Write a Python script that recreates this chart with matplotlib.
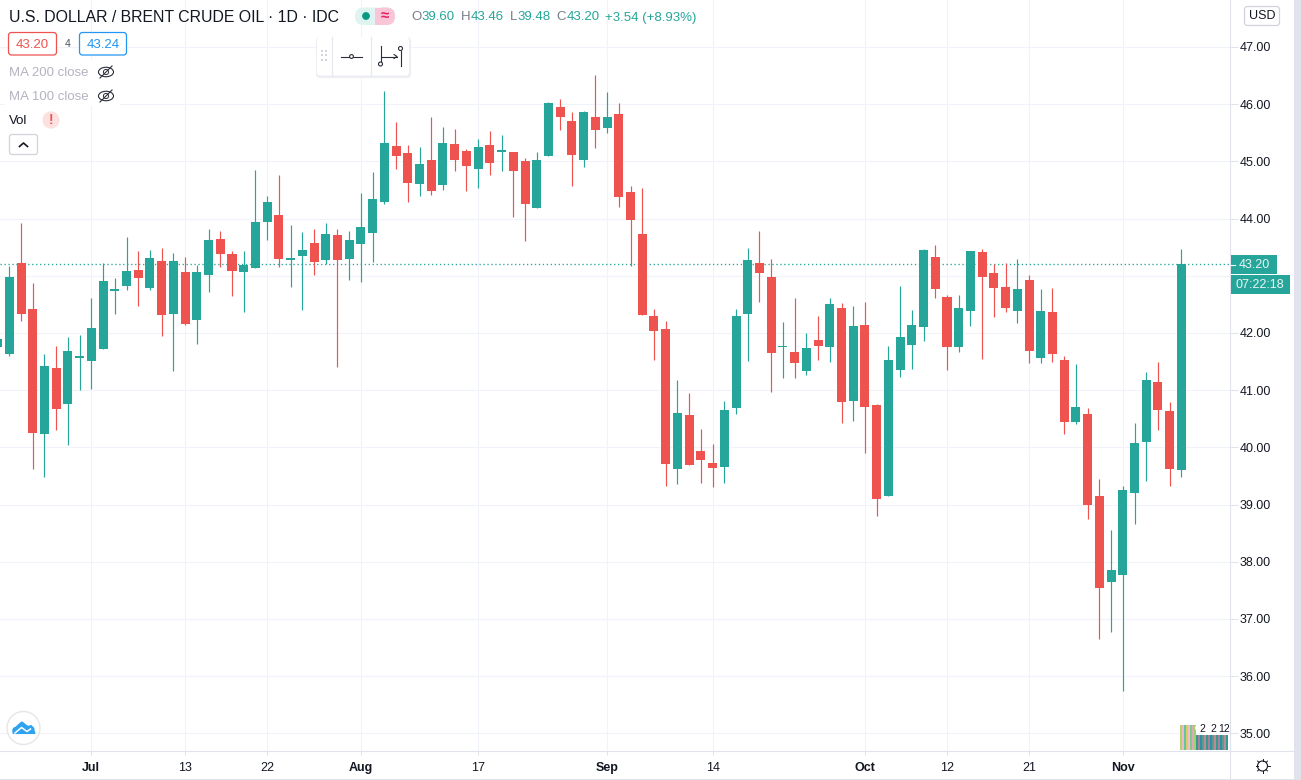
import numpy as np
import matplotlib
matplotlib.use("Agg")
import matplotlib.pyplot as plt
from matplotlib.patches import Rectangle, FancyBboxPatch, Circle, Ellipse, Polygon

plt.rcParams['font.family'] = ['Liberation Sans', 'DejaVu Sans']

opens = [41.75, 41.63, 43.22, 42.41, 40.23, 41.38, 40.75, 41.56, 41.51, 41.72, 42.73, 42.82, 43.10, 42.78, 43.25, 42.33,
         43.06, 42.22, 43.01, 43.64, 43.38, 43.06, 43.13, 43.94, 44.06, 43.27, 43.34, 43.57, 43.28, 43.71, 43.29, 43.56,
         43.75, 44.29, 45.27, 45.15, 44.61, 45.03, 44.59, 45.31, 45.18, 44.87, 45.29, 45.17, 45.17, 45.01, 44.19, 45.10,
         45.95, 45.71, 45.03, 45.78, 45.59, 45.83, 44.46, 43.73, 42.29, 42.07, 39.62, 40.56, 39.93, 39.72, 39.65, 40.68,
         42.33, 43.22, 42.97, 41.75, 41.66, 41.33, 41.87, 41.75, 42.43, 40.81, 42.14, 40.74, 39.15, 41.35, 41.79, 42.10,
         43.32, 42.62, 41.76, 42.38, 43.41, 43.04, 42.81, 42.39, 42.92, 41.57, 42.36, 41.52, 40.45, 40.59, 39.15, 37.64,
         37.77, 39.21, 40.09, 41.15, 40.63, 39.60]
highs = [41.95, 43.17, 43.92, 42.87, 41.63, 41.77, 41.93, 41.96, 42.61, 43.22, 42.96, 43.67, 43.43, 43.45, 43.48, 43.39,
         43.32, 43.18, 43.81, 43.78, 43.43, 43.43, 44.85, 44.39, 44.76, 43.88, 43.76, 43.81, 43.92, 43.82, 43.78, 44.45,
         44.82, 46.23, 45.69, 45.29, 45.25, 45.78, 45.60, 45.57, 45.22, 45.39, 45.53, 45.46, 45.17, 45.06, 45.17, 46.04,
         46.09, 45.87, 45.88, 46.51, 46.22, 46.02, 44.57, 44.53, 42.41, 42.21, 41.17, 40.95, 40.32, 40.05, 40.81, 42.41,
         43.48, 43.78, 43.29, 42.19, 42.61, 42.00, 42.29, 42.61, 42.52, 42.47, 42.54, 40.75, 41.77, 42.82, 42.40, 43.46,
         43.53, 42.67, 42.66, 43.43, 43.46, 43.20, 43.22, 43.29, 43.02, 42.76, 42.78, 41.59, 41.45, 40.68, 39.44, 38.55,
         39.32, 40.42, 41.31, 41.50, 40.80, 43.46]
lows = [41.70, 41.59, 42.21, 39.62, 39.48, 40.30, 40.04, 41.00, 41.02, 41.72, 42.33, 42.75, 42.47, 42.75, 41.94, 41.33,
        42.14, 41.80, 42.71, 43.15, 42.64, 42.36, 43.13, 43.62, 43.15, 42.80, 42.40, 43.01, 43.21, 41.41, 42.93, 42.89,
        43.24, 44.26, 44.87, 44.29, 44.40, 44.41, 44.50, 44.83, 44.48, 44.54, 44.76, 44.83, 44.03, 43.61, 44.19, 45.10,
        45.55, 44.57, 44.90, 45.24, 45.50, 44.20, 43.17, 42.31, 41.52, 39.32, 39.36, 39.69, 39.37, 39.30, 39.37, 40.58,
        41.51, 42.54, 40.96, 41.21, 41.21, 41.26, 41.52, 41.49, 40.42, 40.46, 39.91, 38.80, 39.15, 41.23, 41.37, 41.86,
        42.61, 41.36, 41.66, 42.13, 41.55, 42.27, 42.36, 42.18, 41.47, 41.47, 41.50, 40.23, 40.40, 38.74, 36.65, 36.77,
        35.74, 38.66, 39.42, 40.31, 39.33, 39.48]
closes = [41.90, 42.97, 42.33, 40.25, 41.42, 40.67, 41.68, 41.59, 42.08, 42.90, 42.76, 43.08, 42.96, 43.31, 42.31, 43.25,
          42.15, 43.06, 43.62, 43.38, 43.08, 43.18, 43.94, 44.29, 43.29, 43.31, 43.45, 43.24, 43.73, 43.28, 43.63, 43.85,
          44.34, 45.32, 45.10, 44.62, 44.96, 44.48, 45.32, 45.03, 44.92, 45.25, 44.97, 45.18, 44.83, 44.26, 45.03, 46.02,
          45.78, 45.11, 45.87, 45.55, 45.78, 44.38, 43.97, 42.31, 42.03, 39.71, 40.60, 39.69, 39.78, 39.64, 40.65, 42.29,
          43.27, 43.04, 41.65, 41.77, 41.47, 41.73, 41.77, 42.50, 40.79, 42.12, 40.70, 39.09, 41.52, 41.93, 42.14, 43.45,
          42.76, 41.75, 42.43, 43.43, 42.97, 42.78, 42.43, 42.76, 41.68, 42.39, 41.64, 40.44, 40.70, 39.00, 37.54, 37.85,
          39.25, 40.07, 41.17, 40.65, 39.63, 43.20]

x_tick_index = [7, 15, 22, 30, 40, 51, 60, 73, 80, 87, 95]
x_tick_labels = ['Jul', '13', '22', 'Aug', '17', 'Sep', '14', 'Oct', '12', '21', 'Nov']
month_labels = ['Jul', 'Aug', 'Sep', 'Oct', 'Nov']
y_ticks = [35, 36, 37, 38, 39, 40, 41, 42, 43, 44, 45, 46, 47]
y_hidden_label = 43  # covered by the countdown box in the reference
last_price = 43.20

GREEN = '#26a69a'
RED = '#ef5350'
GRID = '#f0f3fa'
AXIS = '#e0e3eb'
TEXT = '#131722'
W, H = 1301, 780

fig = plt.figure(figsize=(W / 100, H / 100), dpi=100, facecolor='white')
ax = fig.add_axes([0, (H - 751.3) / H, 1230.3 / W, 751.3 / H])

o, h, l, c = map(np.array, (opens, highs, lows, closes))
idx = np.arange(len(o)) - 1
col = np.where(c >= o, GREEN, RED)
ax.vlines(idx, l, h, colors=col, linewidth=0.85, zorder=3)
ax.bar(idx, np.maximum(np.abs(c - o), 0.02), bottom=np.minimum(o, c), width=0.77, color=col, linewidth=0, zorder=4)
ax.axhline(last_price, color=GREEN, linestyle=(0, (1, 2)), linewidth=0.95, zorder=2)

ax.set_xlim(-0.7935, 104.17)
ax.set_ylim(34.687, 47.82)
ax.set_xticks(x_tick_index)
ax.set_xticklabels(x_tick_labels)
ax.yaxis.tick_right()
ax.set_yticks(y_ticks)
ax.set_yticklabels(['' if v == y_hidden_label else f'{v:.2f}' for v in y_ticks])
ax.grid(True, color=GRID, linewidth=0.8, zorder=0)
ax.set_axisbelow(True)
ax.tick_params(axis='y', length=5.5, width=0.75, color=AXIS, labelcolor=TEXT, labelsize=9, pad=1)
ax.tick_params(axis='x', length=3, width=0.75, color=AXIS, labelcolor=TEXT, labelsize=9, pad=4.5)
for t in ax.get_xticklabels():
    if t.get_text() in month_labels:
        t.set_fontweight('bold')
for s in ('top', 'left'):
    ax.spines[s].set_visible(False)
for s in ('right', 'bottom'):
    ax.spines[s].set_color(AXIS)
    ax.spines[s].set_linewidth(0.8)

# Interface furniture in pixel coordinates
ui = fig.add_axes([0, 0, 1, 1], zorder=5)
ui.set_xlim(0, W)
ui.set_ylim(H, 0)
ui.axis('off')
ui.patch.set_alpha(0)


def rrect(x0, y0, x1, y1, r=3, fc='white', ec='none', lw=0.8, z=6):
    p = FancyBboxPatch((x0 + r, y0 + r), x1 - x0 - 2 * r, y1 - y0 - 2 * r,
                       boxstyle=f'round,pad={r},rounding_size={r}', fc=fc, ec=ec, lw=lw, zorder=z)
    ui.add_patch(p)
    return p


def txt(x, y, s, color=TEXT, size=9, ha='left', weight='normal', z=8):
    ui.text(x, y, s, color=color, fontsize=size, ha=ha, va='center', fontweight=weight, zorder=z)


# edges of the window
ui.add_patch(Rectangle((1294, 0), 7, H, fc=AXIS, ec='none', zorder=9))
ui.add_patch(Rectangle((0, 779), W, 1, fc=AXIS, ec='none', zorder=9))
ui.plot([1230.3, 1230.3], [751, 779], color=AXIS, lw=0.8, zorder=6)
ui.plot([1230.3, 1294], [751.3, 751.3], color=AXIS, lw=0.8, zorder=6)

# title row
txt(9, 17, 'U.S. DOLLAR / BRENT CRUDE OIL · 1D · IDC', size=11.45)
rrect(355, 7.5, 395, 25, r=8.5, fc='#dff3f0', z=6)
rrect(375, 7.5, 395, 25, r=8.5, fc='#f9c5d7', z=6)
ui.add_patch(Rectangle((375, 7.5), 9, 17.5, fc='#f9c5d7', ec='none', zorder=6))
ui.add_patch(Circle((366, 16), 3.9, fc='#089981', ec='none', zorder=7))
txt(384.5, 15.5, '≈', color='#e91e63', size=11, ha='center', weight='bold')
GREY = '#787b86'
for xp, s, cl in [(411, 'O', GREY), (421.5, '39.60', GREEN), (460.7, 'H', GREY), (470.2, '43.46', GREEN),
                  (510, 'L', GREY), (517.2, '39.48', GREEN), (556.7, 'C', GREY), (566.2, '43.20', GREEN),
                  (605, '+3.54 (+8.93%)', GREEN)]:
    txt(xp, 17.5, s, color=cl, size=9.5)

# bid / ask
rrect(8.5, 32.5, 56.5, 55, r=3, fc='white', ec=RED, lw=0.9)
rrect(79.5, 32.5, 126.5, 55, r=3, fc='white', ec='#2196f3', lw=0.9)
txt(32.5, 44.5, '43.20', color=RED, size=9.5, ha='center')
txt(103, 44.5, '43.24', color='#2196f3', size=9.5, ha='center')
txt(67.5, 44, '4', color='#50535e', size=7.5, ha='center')

# legend rows
ui.add_patch(Rectangle((5, 60), 115, 46, fc='white', ec='none', zorder=5.5))
txt(9, 73, 'MA 200 close', color='#b2b5be', size=9.5)
txt(9, 97, 'MA 100 close', color='#b2b5be', size=9.5)
for ey in (72, 96):
    ui.add_patch(Ellipse((106, ey), 15, 9.5, fc='none', ec='#2a2e39', lw=0.8, zorder=7))
    ui.add_patch(Circle((106, ey), 2.6, fc='none', ec='#2a2e39', lw=0.7, zorder=7))
    ui.plot([100, 112], [ey + 6, ey - 6], color='#2a2e39', lw=0.8, zorder=7)
txt(9, 120.5, 'Vol', color=TEXT, size=9.5)
ui.add_patch(Circle((51, 120), 8.6, fc='#fde0e0', ec='none', zorder=6))
txt(51, 120, '!', color=RED, size=10, ha='center', weight='bold')
rrect(9.5, 134.5, 37.5, 154.5, r=2.5, fc='white', ec='#d1d4dc', lw=0.9)
ui.plot([19.5, 23.5, 27.5], [146.5, 143, 146.5], color=TEXT, lw=1.2, zorder=7)

# floating toolbar
rrect(316, 37, 411, 78, r=4, fc='#eceef2', z=5.4)
rrect(317, 37, 409, 75.5, r=3, fc='white', z=6)
ui.plot([331.5, 331.5], [37, 75.5], color='#e6e8ee', lw=0.9, zorder=7)
ui.plot([370.5, 370.5], [37, 75.5], color='#e6e8ee', lw=0.9, zorder=7)
for gx in (322, 326):
    for gy in (51, 55, 60):
        ui.add_patch(Rectangle((gx - 1, gy - 1), 2, 2, fc='#d1d4dc', ec='none', zorder=7))
ui.plot([341, 362], [56.5, 56.5], color='#2a2e39', lw=0.8, zorder=7)
ui.add_patch(Circle((351.5, 56.5), 1.9, fc='white', ec='#2a2e39', lw=0.8, zorder=8))
ui.plot([380.5, 380.5], [46, 62], color='#2a2e39', lw=0.8, zorder=7)
ui.plot([400.5, 400.5], [51, 66], color='#2a2e39', lw=0.8, zorder=7)
ui.plot([381, 397], [56.5, 56.5], color='#2a2e39', lw=0.8, zorder=7)
ui.plot([394, 397, 394], [54.5, 56.5, 58.5], color='#2a2e39', lw=0.8, zorder=7)
ui.add_patch(Circle((380.5, 64), 2, fc='white', ec='#2a2e39', lw=0.8, zorder=8))
ui.add_patch(Circle((400.5, 48.5), 2, fc='white', ec='#2a2e39', lw=0.8, zorder=8))

# USD button
rrect(1244.5, 6.5, 1279.5, 25.5, r=3, fc='white', ec='#d1d4dc', lw=0.9)
txt(1262, 16, 'USD', size=9, ha='center')

# last price + countdown
ui.add_patch(Rectangle((1230.5, 255), 46.5, 19, fc=GREEN, ec='none', zorder=6))
ui.plot([1231, 1235], [264.5, 264.5], color='white', lw=0.8, zorder=7)
txt(1254, 264.8, '43.20', color='#e8f6f4', size=9, ha='center')
ui.add_patch(Rectangle((1231, 275), 59, 18.5, fc=GREEN, ec='none', zorder=6))
txt(1260, 284.5, '07:22:18', color='#e8f6f4', size=9, ha='center')

# logo
ui.add_patch(Circle((23.5, 728), 16.5, fc='white', ec='#e6e6e6', lw=1.0, zorder=6))
ui.add_patch(Polygon([(13.5, 730), (20, 724), (22, 722.5), (25, 725), (28, 727), (31, 726), (34.5, 733), (13.5, 733)],
                     fc='#2ea3f2', ec='#2ea3f2', lw=1.5, joinstyle='round', zorder=7))
ui.add_patch(Circle((31, 729.5), 3.5, fc='#2ea3f2', ec='none', zorder=7))
ui.add_patch(Circle((15.5, 730), 3, fc='#2ea3f2', ec='none', zorder=7))
ui.plot([15, 21.5, 27, 30.5], [733, 727.5, 731.5, 729], color='white', lw=1.1, zorder=8)

# sun icon
ui.add_patch(Circle((1262.5, 766), 5, fc='none', ec=TEXT, lw=0.8, zorder=7))
for a in np.arange(0, 2 * np.pi, np.pi / 4):
    ui.plot([1262.5 + 5 * np.cos(a), 1262.5 + 7 * np.cos(a)], [766 + 5 * np.sin(a), 766 + 7 * np.sin(a)],
            color=TEXT, lw=0.7, zorder=7)

# small artefact at the lower right corner of the pane
stripes = ['#b5d36b', '#f0b8c8', '#63c4a4', '#d6cf66', '#f4bcd0', '#7fc98a', '#e0a8b8', '#a0d070']
for k, xp in enumerate(np.arange(1180, 1196, 2)):
    ui.add_patch(Rectangle((xp, 725), 2, 24.5, fc=stripes[k % len(stripes)], ec='none', zorder=6))
short = ['#2f9c90', '#b07d96', '#2a90a6', '#5f9a90', '#bc8c96']
for k, xp in enumerate(np.arange(1196, 1228, 2)):
    ui.add_patch(Rectangle((xp, 735), 2, 15, fc=short[k % len(short)], ec='none', zorder=6))
ui.add_patch(Ellipse((1212, 728), 34, 13, fc='white', ec='none', zorder=6.5))
txt(1202, 729, '2', size=7.5, ha='center')
txt(1213.5, 729, '2', size=7.5, ha='center')
txt(1224.5, 729, '12', size=7.5, ha='center')

fig.savefig('out.png', dpi=100)
